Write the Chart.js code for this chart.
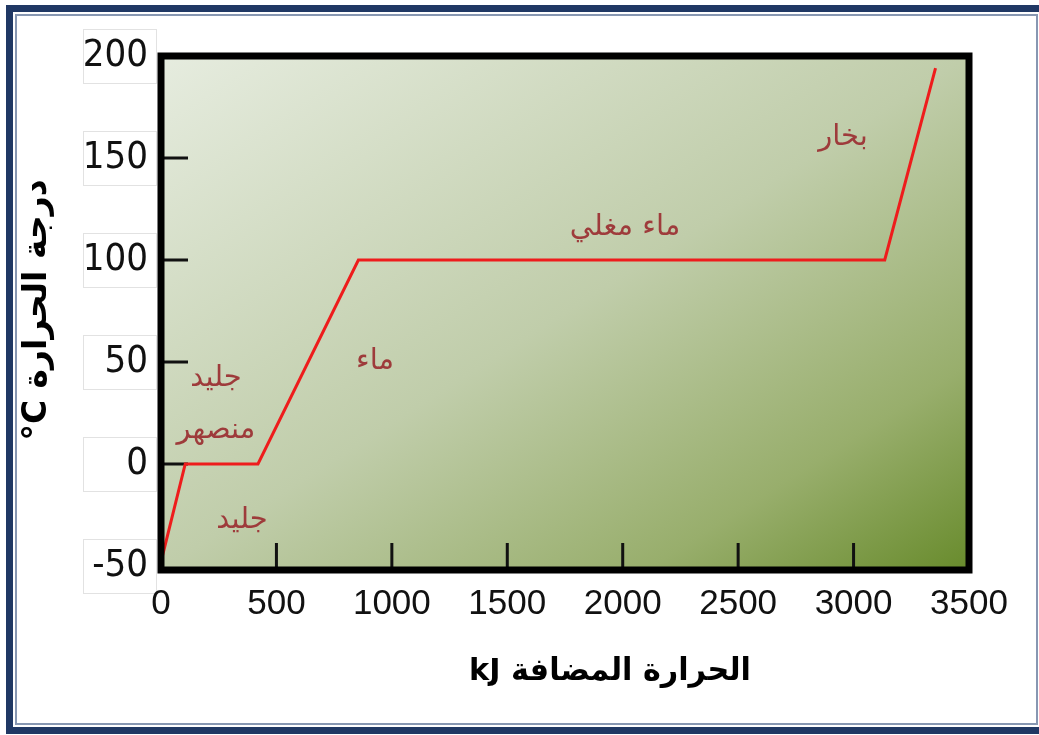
<!DOCTYPE html>
<html lang="ar">
<head>
<meta charset="UTF-8" />
<title>منحنى تسخين الماء</title>
<script src="https://cdn.jsdelivr.net/npm/chart.js"></script>
<style>
  html, body { margin: 0; padding: 0; background: #fff; }
  .page { position: relative; width: 1039px; height: 735px; overflow: hidden; }
  .frame-out { position: absolute; left: 6px; top: 5px; width: 1100px; height: 729px; box-sizing: border-box; border: 7px solid #203864; }
  .frame-in { position: absolute; left: 15px; top: 14px; width: 1023px; height: 711px; box-sizing: border-box; border: 2px solid #8797b2; }
  canvas { position: absolute; left: 0; top: 0; }
</style>
</head>
<body>
<div class="page">
  <div class="frame-out"></div>
  <div class="frame-in"></div>
  <canvas id="grafico" width="1039" height="735"></canvas>
</div>

<script>
// heating curve of water
const heatKJ = [0, 105, 420, 855, 3135, 3355];
const tempC = [-48, 0, 0, 100, 100, 194];

const xTicks = [0, 500, 1000, 1500, 2000, 2500, 3000, 3500];
const yTicks = [-50, 0, 50, 100, 150, 200];

// phase labels, placed in data units
const phaseNames = ['جليد', 'جليد', 'منصهر', 'ماء', 'ماء مغلي', 'بخار'];
const phaseX = [351, 238, 238, 927, 2010, 2954];
const phaseY = [-27.5, 42, 16.5, 50, 115.7, 160];

const xTitle = 'kJ الحرارة المضافة';
const yTitle = '°C درجة الحرارة';

const decor = {
    id: 'decor',
    beforeDraw(chart) {
        const { ctx, chartArea: a, scales: { y } } = chart;
        ctx.save();
        // white boxes behind the y labels
        ctx.fillStyle = '#fff';
        ctx.strokeStyle = '#e2e2e2';
        ctx.lineWidth = 1;
        y.ticks.forEach(t => {
            const py = Math.round(y.getPixelForValue(t.value));
            ctx.fillRect(83, py - 27, 73, 54);
            ctx.strokeRect(83.5, py - 26.5, 73, 54);
        });
        // diagonal green gradient
        const cx = (a.left + a.right) / 2, cy = (a.top + a.bottom) / 2;
        const w = a.right - a.left, h = a.bottom - a.top;
        const len = Math.hypot(w, h);
        const ux = h / len, uy = w / len;
        const half = (w / 2 * ux + h / 2 * uy);
        const g = ctx.createLinearGradient(cx - ux * half, cy - uy * half, cx + ux * half, cy + uy * half);
        g.addColorStop(0, '#e6ecdf');
        g.addColorStop(0.5, '#c0cdaa');
        g.addColorStop(0.8, '#98ae6c');
        g.addColorStop(1, '#688b2c');
        ctx.fillStyle = g;
        ctx.fillRect(a.left, a.top, w, h);
        ctx.restore();
    },
    beforeDatasetsDraw(chart) {
        const { ctx, chartArea: a, scales: { x, y } } = chart;
        ctx.save();
        ctx.strokeStyle = '#111';
        ctx.lineWidth = 3;
        ctx.beginPath();
        yTicks.slice(1, -1).forEach(v => {
            const py = y.getPixelForValue(v);
            ctx.moveTo(a.left, py);
            ctx.lineTo(a.left + 27, py);
        });
        xTicks.slice(1, -1).forEach(v => {
            const px = x.getPixelForValue(v);
            ctx.moveTo(px, a.bottom);
            ctx.lineTo(px, a.bottom - 27);
        });
        ctx.stroke();
        ctx.restore();
    },
    afterDatasetsDraw(chart) {
        const { ctx, chartArea: a, scales: { x, y } } = chart;
        ctx.save();
        ctx.strokeStyle = '#000';
        ctx.lineWidth = 7;
        ctx.strokeRect(a.left, a.top, a.right - a.left, a.bottom - a.top);

        ctx.fillStyle = '#9e3b3b';
        ctx.font = '29px "DejaVu Sans"';
        ctx.textAlign = 'center';
        ctx.textBaseline = 'middle';
        phaseNames.forEach((s, i) => {
            ctx.fillText(s, x.getPixelForValue(phaseX[i]), y.getPixelForValue(phaseY[i]));
        });

        // axis titles
        ctx.fillStyle = '#000';
        ctx.font = 'bold 31px "DejaVu Sans"';
        ctx.fillText(xTitle, 610, 672, 282);
        ctx.font = 'bold 33px "DejaVu Sans"';
        ctx.translate(37, 310);
        ctx.rotate(-Math.PI / 2);
        ctx.fillText(yTitle, 0, 0, 268);
        ctx.restore();
    }
};

const ctx = document.getElementById('grafico').getContext('2d');
const grafico = new Chart(ctx, {
    type: 'scatter',
    data: {
        datasets: [{
            data: heatKJ.map((v, i) => ({ x: v, y: tempC[i] })),
            showLine: true,
            borderColor: '#ee1c1c',
            borderWidth: 3,
            pointRadius: 0,
            tension: 0
        }]
    },
    options: {
        responsive: false,
        animation: false,
        devicePixelRatio: 1,
        layout: { padding: { top: 56, right: 70, left: 0, bottom: 0 } },
        plugins: { legend: { display: false }, tooltip: { enabled: false } },
        scales: {
            x: {
                type: 'linear',
                min: 0,
                max: 3500,
                afterFit(s) { s.height = 165; },
                afterBuildTicks(s) { s.ticks = xTicks.map(v => ({ value: v })); },
                grid: { display: false },
                border: { display: false },
                ticks: {
                    color: '#111',
                    padding: 5,
                    maxRotation: 0,
                    autoSkip: false,
                    callback: v => String(v),
                    font: { family: '"Liberation Sans", sans-serif', size: 35 }
                }
            },
            y: {
                type: 'linear',
                min: -52,
                max: 200,
                afterFit(s) { s.width = 161; },
                afterBuildTicks(s) { s.ticks = yTicks.map(v => ({ value: v })); },
                grid: { display: false },
                border: { display: false },
                ticks: {
                    color: '#111',
                    padding: 5,
                    autoSkip: false,
                    callback: v => String(v),
                    font: { family: '"Liberation Sans Narrow", "DejaVu Sans Condensed", sans-serif', size: 38 }
                }
            }
        }
    },
    plugins: [decor]
});
</script>
</body>
</html>
